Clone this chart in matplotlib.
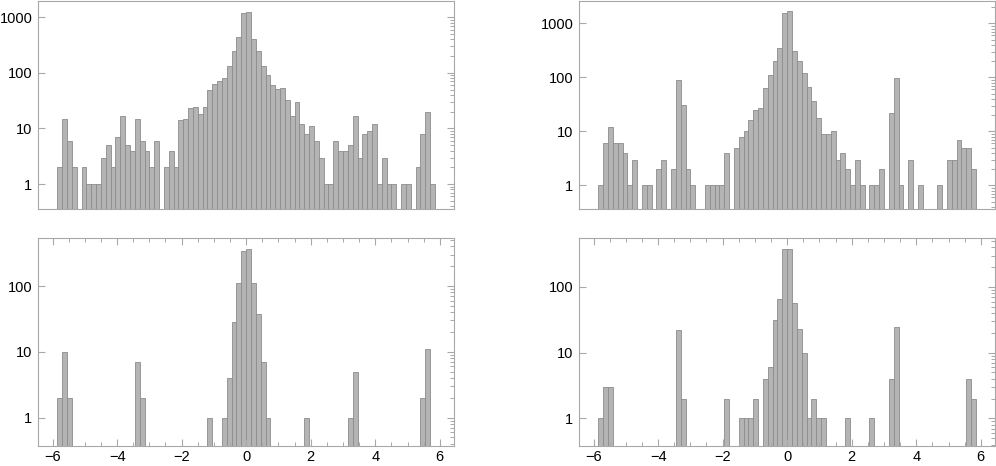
import numpy as np
import matplotlib
matplotlib.use("Agg")
import matplotlib.pyplot as plt
from matplotlib.ticker import FixedLocator, NullFormatter, FixedFormatter

plt.rcParams['font.family'] = ['Liberation Sans', 'DejaVu Sans']

# ---- data: counts per bin (78 bins of width 0.15 from -5.85 to 5.85) ----
bin_lo, bin_hi, n_bins = -5.85, 5.85, 78

counts_tl = [2, 15, 6, 2, 0, 2, 1, 1, 1, 3, 5, 2, 7, 17, 5, 4, 15, 6, 4, 2,
             6, 0, 2, 4, 2, 14, 15, 23, 24, 18, 24, 50, 62, 72, 81, 132, 246, 447, 1177, 1224,
             410, 246, 132, 90, 61, 52, 53, 33, 17, 30, 12, 8, 11, 6, 3, 1, 1, 6, 4, 4,
             5, 17, 3, 8, 9, 12, 1, 3, 1, 1, 0, 1, 1, 0, 2, 8, 20, 1]

counts_tr = [1, 6, 12, 6, 6, 4, 1, 3, 0, 1, 1, 0, 2, 3, 0, 2, 89, 31, 2, 1,
             0, 0, 1, 1, 1, 1, 4, 0, 5, 8, 10, 16, 25, 27, 64, 110, 200, 345, 1585, 1690,
             311, 200, 120, 65, 36, 18, 9, 9, 10, 3, 4, 2, 1, 3, 1, 0, 1, 1, 2, 0,
             22, 96, 1, 0, 3, 0, 1, 0, 0, 0, 1, 0, 3, 3, 7, 5, 5, 2]

counts_bl = [2, 10, 2, 0, 0, 0, 0, 0, 0, 0, 0, 0, 0, 0, 0, 0, 7, 2, 0, 0,
             0, 0, 0, 0, 0, 0, 0, 0, 0, 0, 0, 1, 0, 0, 1, 4, 28, 110, 339, 364,
             112, 37, 7, 1, 0, 0, 0, 0, 0, 0, 0, 1, 0, 0, 0, 0, 0, 0, 0, 0,
             1, 5, 0, 0, 0, 0, 0, 0, 0, 0, 0, 0, 0, 0, 0, 2, 11, 0]

counts_br = [1, 3, 3, 0, 0, 0, 0, 0, 0, 0, 0, 0, 0, 0, 0, 0, 22, 2, 0, 0,
             0, 0, 0, 0, 0, 0, 2, 0, 0, 1, 1, 1, 2, 0, 4, 6, 31, 65, 380, 384,
             57, 23, 10, 1, 2, 1, 1, 0, 0, 0, 0, 1, 0, 0, 0, 0, 1, 0, 0, 0,
             4, 25, 0, 0, 0, 0, 0, 0, 0, 0, 0, 0, 0, 0, 0, 0, 4, 2]

ylims = {'tl': (0.36, 1960), 'tr': (0.37, 2590), 'bl': (0.37, 531), 'br': (0.38, 550)}
yticks_top = [1, 10, 100, 1000]
yticks_bottom = [1, 10, 100]
xticks_major = [-6, -4, -2, 0, 2, 4, 6]

edges = np.linspace(bin_lo, bin_hi, n_bins + 1)
width = edges[1] - edges[0]

W, H = 996, 466
fig = plt.figure(figsize=(W / 100, H / 100), dpi=100)

def px_axes(l, t, r, b):
    return fig.add_axes([l / W, (H - b) / H, (r - l) / W, (b - t) / H])

FACE = '#b4b4b4'
EDGE = '#8c8c8c'
SPINE = '#a8a8a8'

panels = [
    ('tl', counts_tl, (38, 1, 454, 208.7), yticks_top, False),
    ('tr', counts_tr, (579, 1, 995, 208.7), yticks_top, False),
    ('bl', counts_bl, (38, 238.3, 454, 446), yticks_bottom, True),
    ('br', counts_br, (579, 238.3, 995, 446), yticks_bottom, True),
]

minor_y = [m * 10.0 ** e for e in range(-1, 4) for m in range(2, 10)]

for key, counts, box, yt, show_x in panels:
    ax = px_axes(*box)
    c = np.asarray(counts, dtype=float)
    mask = c > 0
    base = ylims[key][0] * 0.5
    ax.set_yscale('log')
    ax.bar(edges[:-1][mask], c[mask] - base, width=width, align='edge',
           bottom=base, color=FACE, edgecolor=EDGE, linewidth=0.6)
    ax.set_xlim(-6.45, 6.44)
    ax.set_ylim(*ylims[key])
    for s in ax.spines.values():
        s.set_color(SPINE)
        s.set_linewidth(0.8)

    # y ticks: left major with labels, right major + minor no labels
    ax.yaxis.set_major_locator(FixedLocator(yt))
    ax.yaxis.set_major_formatter(FixedFormatter([str(v) for v in yt]))
    ax.yaxis.set_minor_locator(FixedLocator(minor_y))
    ax.yaxis.set_minor_formatter(NullFormatter())
    ax.tick_params(axis='y', which='major', direction='in', length=5, width=0.8,
                   color=SPINE, labelsize=10.5, labelcolor='black', pad=4,
                   left=True, right=True, labelleft=True, labelright=False)
    ax.tick_params(axis='y', which='minor', direction='in', length=3, width=0.7,
                   color=SPINE, left=False, right=True)

    if show_x:
        ax.xaxis.set_major_locator(FixedLocator(xticks_major))
        ax.xaxis.set_major_formatter(FixedFormatter(
            [('\u2212' + str(-v)) if v < 0 else str(v) for v in xticks_major]))
        ax.xaxis.set_minor_locator(FixedLocator(np.arange(-6.5, 6.51, 0.5)))
        ax.tick_params(axis='x', which='major', direction='in', length=5, width=0.8,
                       color=SPINE, labelsize=10.5, labelcolor='black', pad=3,
                       bottom=True, top=True)
        ax.tick_params(axis='x', which='minor', direction='in', length=3, width=0.7,
                       color=SPINE, bottom=True, top=True)
    else:
        ax.set_xticks([])
        ax.tick_params(axis='x', which='both', bottom=False, top=False,
                       labelbottom=False)

fig.savefig('out.png', dpi=100)
